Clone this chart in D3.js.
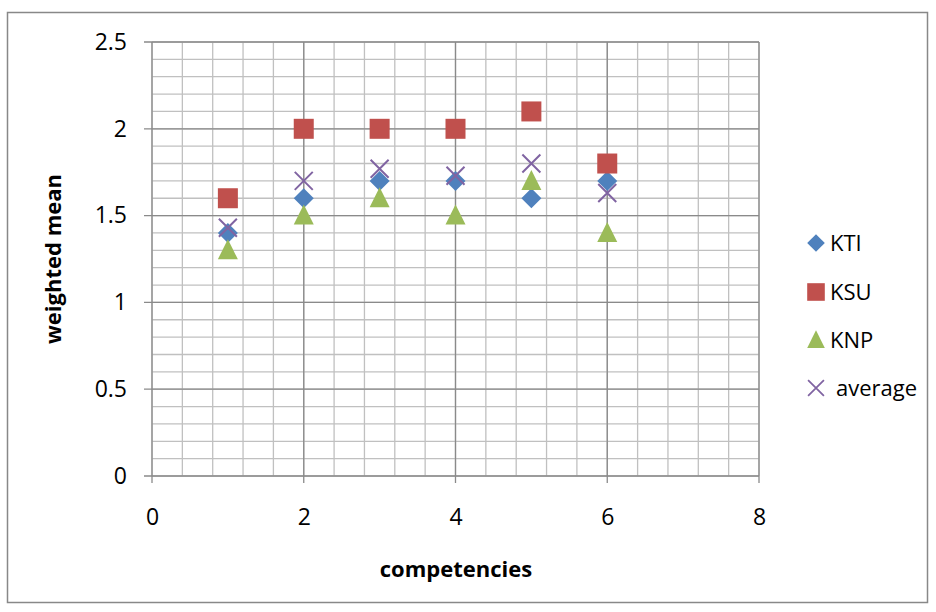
<!DOCTYPE html>
<html><head><meta charset="utf-8">
<script src="https://cdn.jsdelivr.net/npm/d3@7"></script>
<style>body{margin:0;background:#fff}svg{display:block}text{font-family:"Open Sans","Noto Sans",sans-serif;fill:#000}</style>
</head><body><svg id="c" width="936" height="612"></svg>
<script>
const competencies = [1, 2, 3, 4, 5, 6];
const kti = [1.4, 1.6, 1.7, 1.7, 1.6, 1.7];
const ksu = [1.6, 2.0, 2.0, 2.0, 2.1, 1.8];
const knp = [1.3, 1.5, 1.6, 1.5, 1.7, 1.4];
const average = [1.43, 1.7, 1.77, 1.73, 1.8, 1.63];
const seriesNames = ["KTI", "KSU", "KNP", "average"];
const xTicks = [0, 2, 4, 6, 8];
const yTicks = [0, 0.5, 1, 1.5, 2, 2.5];

const colors = {KTI:"#4F81BD", KSU:"#C0504D", KNP:"#9BBB59", average:"#8064A2"};
const values = {KTI:kti, KSU:ksu, KNP:knp, average:average};
const svg = d3.select("#c");
svg.append("rect").attr("x",7.5).attr("y",12.5).attr("width",920).attr("height",590)
  .attr("fill","#fff").attr("stroke","#888").attr("stroke-width",1.5);

const L=152, R=759, T=42, B=476;
const x = d3.scaleLinear().domain([0,8]).range([L,R]);
const y = d3.scaleLinear().domain([0,2.5]).range([B,T]);

const g = svg.append("g");
const xMinor = d3.range(0, 8.001, 0.4);
const yMinor = d3.range(0, 2.501, 0.1);
g.selectAll(".vm").data(xMinor).join("line")
  .attr("x1",d=>x(d)).attr("x2",d=>x(d)).attr("y1",T).attr("y2",B)
  .attr("stroke","#c0c0c0").attr("stroke-width",1.3);
g.selectAll(".hm").data(yMinor).join("line")
  .attr("y1",d=>y(d)).attr("y2",d=>y(d)).attr("x1",L).attr("x2",R)
  .attr("stroke","#c0c0c0").attr("stroke-width",1.3);
g.selectAll(".vM").data(xTicks).join("line")
  .attr("x1",d=>x(d)).attr("x2",d=>x(d)).attr("y1",T).attr("y2",B+7)
  .attr("stroke","#8a8a8a").attr("stroke-width",1.3);
g.selectAll(".hM").data(yTicks).join("line")
  .attr("y1",d=>y(d)).attr("y2",d=>y(d)).attr("x1",L-8).attr("x2",R)
  .attr("stroke","#8a8a8a").attr("stroke-width",1.3);

const ya = svg.append("g").attr("transform",`translate(127,0)`)
  .call(d3.axisLeft(y).tickValues(yTicks).tickSize(0).tickPadding(0).tickFormat(d3.format("")));
ya.select(".domain").remove();
ya.selectAll("text").attr("font-size",23).attr("font-family","'Open Sans',sans-serif").attr("fill","#000");
const xa = svg.append("g").attr("transform",`translate(0,0)`)
  .call(d3.axisBottom(x).tickValues(xTicks).tickSize(0).tickPadding(0).tickFormat(d3.format("")));
xa.select(".domain").remove();
xa.selectAll("text").attr("font-size",23).attr("font-family","'Open Sans',sans-serif").attr("fill","#000").attr("dy",null).attr("y",525);

svg.append("text").attr("x",456).attr("y",577).attr("text-anchor","middle")
  .attr("font-size",22).attr("font-weight","bold").text("competencies");
svg.append("text").attr("transform","translate(61,259) rotate(-90)").attr("text-anchor","middle")
  .attr("font-size",22).attr("font-weight","bold").text("weighted mean");

function marker(sel, name){
  if(name==="KTI") sel.append("path").attr("d","M0,-10L10,0L0,10L-10,0Z").attr("fill",colors[name]);
  else if(name==="KSU") sel.append("rect").attr("x",-10).attr("y",-10).attr("width",20).attr("height",20).attr("fill",colors[name]);
  else if(name==="KNP") sel.append("path").attr("d","M0,-11L10,9L-10,9Z").attr("fill",colors[name]);
  else sel.append("path").attr("d","M-9,-9L9,9M9,-9L-9,9").attr("stroke",colors[name]).attr("stroke-width",2).attr("fill","none");
}
seriesNames.forEach(name=>{
  const vals = values[name];
  competencies.forEach((c,i)=>{
    const m = svg.append("g").attr("transform",`translate(${x(c)},${y(vals[i])})`);
    marker(m, name);
  });
});

const legY = [243, 292, 340, 388];
seriesNames.forEach((name,i)=>{
  const m = svg.append("g").attr("transform",`translate(816,${legY[i]})`);
  m.append("g").attr("transform","scale(0.88)").call(s=>marker(s, name));
  svg.append("text").attr("x", name==="average"?836:830).attr("y",legY[i]).attr("dy","0.36em")
    .attr("font-size",22).text(name);
});
</script></body></html>
